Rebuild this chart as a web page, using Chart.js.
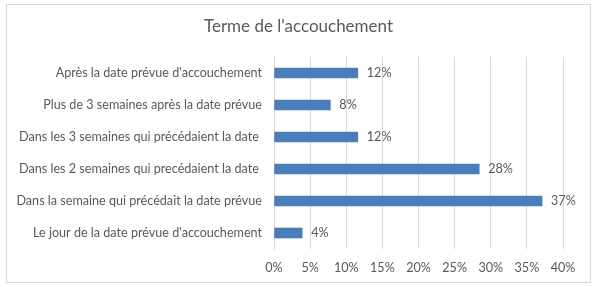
<!DOCTYPE html>
<html>
<head>
<meta charset="utf-8">
<script src="https://cdn.jsdelivr.net/npm/chart.js@4/dist/chart.umd.min.js"></script>
<style>
  html, body { margin: 0; padding: 0; background: #ffffff; }
  canvas { display: block; }
</style>
</head>
<body>
<canvas id="c" width="595" height="287"></canvas>
<script>
const chartTitle = "Terme de l'accouchement";
const categories = [
  "Après la date prévue d'accouchement",
  "Plus de 3 semaines après la date prévue",
  "Dans les 3 semaines qui précédaient la date ",
  "Dans les 2 semaines qui precédaient la date ",
  "Dans la semaine qui précédait la date prévue",
  "Le jour de la date prévue d'accouchement"
];
const values = [11.6, 7.8, 11.6, 28.4, 37.1, 3.9];
const valueLabels = ["12%", "8%", "12%", "28%", "37%", "4%"];
const xTicks = [0, 5, 10, 15, 20, 25, 30, 35, 40];

const FONT = "Lato, 'Open Sans', sans-serif";
const TEXT = '#595959';
const GRID = '#d9d9d9';
const FS = 12.6;

const frame = {
  id: 'frame',
  beforeDraw(chart) {
    const ctx = chart.ctx;
    ctx.save();
    ctx.fillStyle = '#ffffff';
    ctx.fillRect(0, 0, chart.width, chart.height);
    ctx.strokeStyle = '#d9d9d9';
    ctx.lineWidth = 1;
    ctx.strokeRect(6.5, 4.5, 584, 278);
    ctx.restore();
  },
  afterDraw(chart) {
    const ctx = chart.ctx;
    ctx.save();
    ctx.font = '17px ' + FONT;
    ctx.fillStyle = TEXT;
    ctx.textAlign = 'center';
    ctx.textBaseline = 'middle';
    ctx.fillText(chartTitle, 298.5, 27);
    ctx.restore();
  }
};

const valueLabelPlugin = {
  id: 'valueLabels',
  afterDatasetsDraw(chart) {
    const ctx = chart.ctx;
    const meta = chart.getDatasetMeta(0);
    ctx.save();
    ctx.font = FS + 'px ' + FONT;
    ctx.fillStyle = TEXT;
    ctx.textAlign = 'left';
    ctx.textBaseline = 'middle';
    meta.data.forEach((bar, i) => {
      ctx.fillText(valueLabels[i], bar.x + 9, bar.y);
    });
    ctx.restore();
  }
};

new Chart(document.getElementById('c'), {
  type: 'bar',
  data: {
    labels: categories,
    datasets: [{
      data: values,
      backgroundColor: '#4a7ebb',
      borderWidth: 0,
      barThickness: 10
    }]
  },
  options: {
    indexAxis: 'y',
    responsive: false,
    animation: false,
    devicePixelRatio: 1,
    layout: { padding: { top: 57, left: 0, right: 32, bottom: 4 } },
    plugins: {
      legend: { display: false },
      tooltip: { enabled: false },
      title: { display: false }
    },
    scales: {
      x: {
        min: 0,
        max: 40,
        afterBuildTicks(scale) { scale.ticks = xTicks.map(v => ({ value: v })); },
        afterFit(scale) { scale.height = 34; },
        grid: { color: GRID, drawTicks: false },
        border: { display: false },
        ticks: {
          color: TEXT,
          font: { family: FONT, size: FS },
          padding: 11,
          callback: v => v + '%'
        }
      },
      y: {
        afterFit(scale) { scale.width = 274; },
        grid: { display: false, drawTicks: false },
        border: { display: true, color: GRID },
        ticks: {
          color: TEXT,
          font: { family: FONT, size: FS },
          padding: 12
        }
      }
    }
  },
  plugins: [frame, valueLabelPlugin]
});
</script>
</body>
</html>
